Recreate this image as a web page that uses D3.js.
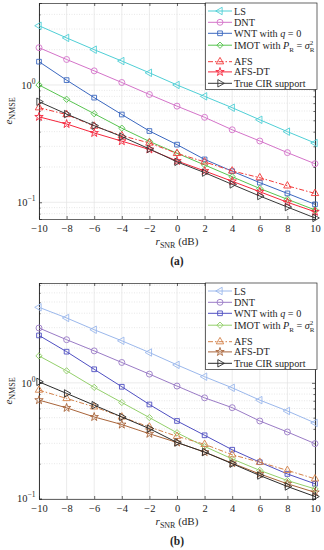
<!DOCTYPE html>
<html>
<head>
    <meta charset="utf-8" />
    <title>NMSE vs SNR</title>
    <script src="https://cdn.jsdelivr.net/npm/d3@7"></script>
    <style>
        body { margin: 0; background: #fff; }
        svg text { font-family: "Liberation Serif", "Times New Roman", serif; fill: #262626; }
    </style>
</head>
<body>
<script>

    //SNR values (dB), shared by both panels
    var snr = [-10, -8, -6, -4, -2, 0, 2, 4, 6, 8, 10];

    //Panel (a) curves
    var lsA    = [3.2, 2.52, 2.0, 1.6, 1.27, 1.0, 0.8, 0.64, 0.505, 0.40, 0.32];
    var dntA   = [2.08, 1.65, 1.32, 1.05, 0.83, 0.66, 0.53, 0.415, 0.333, 0.265, 0.213];
    var wntA   = [1.58, 1.1, 0.78, 0.56, 0.405, 0.31, 0.232, 0.184, 0.147, 0.119, 0.096];
    var imotA  = [1.0, 0.755, 0.569, 0.428, 0.33, 0.262, 0.208, 0.165, 0.131, 0.106, 0.086];
    var afsA   = [0.64, 0.56, 0.446, 0.37, 0.32, 0.261, 0.221, 0.185, 0.162, 0.138, 0.119];
    var afsdtA = [0.535, 0.465, 0.39, 0.332, 0.282, 0.225, 0.185, 0.151, 0.123, 0.1, 0.083];
    var trueA  = [0.72, 0.565, 0.45, 0.363, 0.285, 0.221, 0.179, 0.142, 0.113, 0.091, 0.0735];

    //Panel (b) curves
    var lsB    = [4.5, 3.64, 2.88, 2.31, 1.83, 1.43, 1.13, 0.906, 0.709, 0.571, 0.45];
    var dntB   = [2.98, 2.36, 1.89, 1.5, 1.19, 0.938, 0.742, 0.61, 0.468, 0.376, 0.298];
    var wntB   = [2.57, 1.86, 1.31, 0.925, 0.65, 0.468, 0.352, 0.264, 0.206, 0.163, 0.134];
    var imotB  = [1.71, 1.27, 0.914, 0.676, 0.501, 0.37, 0.282, 0.22, 0.175, 0.143, 0.121];
    var afsB   = [0.866, 0.733, 0.62, 0.507, 0.415, 0.345, 0.294, 0.239, 0.206, 0.175, 0.148];
    var afsdtB = [0.709, 0.608, 0.507, 0.436, 0.363, 0.305, 0.252, 0.202, 0.163, 0.134, 0.113];
    var trueB  = [1.02, 0.81, 0.641, 0.507, 0.402, 0.305, 0.252, 0.2, 0.158, 0.127, 0.104];

    //y limits and labelled decades
    var yDomainA = [0.072, 5];
    var yDomainB = [0.099, 7.3];
    var yMajor = [0.1, 1];

    //legend text, split in runs: [text, style]
    var legendParts = [
        [["LS"]],
        [["DNT"]],
        [["WNT with "], ["q", "i"], [" = 0"]],
        [["IMOT with "], ["P", "i"], ["R", "sub"], [" = "], ["σ", "i"], ["2", "sup"], ["R", "subback"]],
        [["AFS"]],
        [["AFS-DT"]],
        [["True CIR support"]]
    ];

    //styles
    var colorsA = ["#4fcfd6", "#d473c9", "#3b68c0", "#58c450", "#f23a3a", "#f5263c", "#383838"];
    var colorsB = ["#9bb8ec", "#9a7bc6", "#4f4fc2", "#94d06c", "#d4824a", "#a8643a", "#2a2a2a"];
    var markers = ["tleft", "circle", "square", "diamond", "tup", "star", "tright"];
    var dashes  = [null, null, null, null, "5,2,1.5,2", null, null];

    var w = 324, h = 550;
    var left = 39, right = 315, plotH = 216;

    var svg = d3.select("body").append("svg")
        .attr("width", w)
        .attr("height", h);

    function symbolPath(kind) {
        var s = d3.symbol();
        if (kind == "circle") return s.type(d3.symbolCircle).size(28)();
        if (kind == "square") return s.type(d3.symbolSquare).size(22)();
        if (kind == "diamond") return s.type(d3.symbolSquare).size(20)();
        if (kind == "star") return s.type(d3.symbolStar).size(22)();
        return s.type(d3.symbolTriangle).size(24)();
    }
    function symbolRot(kind) {
        if (kind == "tleft") return -90;
        if (kind == "tright") return 90;
        if (kind == "diamond") return 45;
        return 0;
    }

    function drawPanel(top, series, colors, yDomain, tag) {
        var g = svg.append("g");

        var x = d3.scaleLinear().domain([-10, 10]).range([left, right]);
        var y = d3.scaleLog().domain(yDomain).range([top + plotH, top]);

        //grid: minor (dotted) then major
        var minor = [];
        for (var k = -2; k <= 1; k++) {
            for (var m = 2; m <= 9; m++) {
                var v = m * Math.pow(10, k);
                if (v > yDomain[0] && v < yDomain[1]) minor.push(v);
            }
        }
        g.selectAll(".minor").data(minor).enter().append("line")
            .attr("x1", left).attr("x2", right)
            .attr("y1", function (d) { return y(d); })
            .attr("y2", function (d) { return y(d); })
            .attr("stroke", "#d8d8d8").attr("stroke-width", 0.6)
            .attr("stroke-dasharray", "1,1.5");
        g.selectAll(".hmajor").data(yMajor).enter().append("line")
            .attr("x1", left).attr("x2", right)
            .attr("y1", function (d) { return y(d); })
            .attr("y2", function (d) { return y(d); })
            .attr("stroke", "#e2e2e2").attr("stroke-width", 0.7);
        g.selectAll(".vmajor").data(snr).enter().append("line")
            .attr("x1", function (d) { return x(d); })
            .attr("x2", function (d) { return x(d); })
            .attr("y1", top).attr("y2", top + plotH)
            .attr("stroke", "#e2e2e2").attr("stroke-width", 0.7);

        //axes (ticks pointing in, box on)
        var fmt = function (d) { return d < 0 ? "\u2212" + (-d) : d; };
        var xb = g.append("g")
            .attr("transform", "translate(0," + (top + plotH) + ")")
            .call(d3.axisBottom(x).tickValues(snr).tickSize(-3).tickPadding(6).tickFormat(fmt));
        var xt = g.append("g")
            .attr("transform", "translate(0," + top + ")")
            .call(d3.axisTop(x).tickValues(snr).tickSize(-3).tickFormat(""));
        var yl = g.append("g")
            .attr("transform", "translate(" + left + ",0)")
            .call(d3.axisLeft(y).tickValues(yMajor).tickSize(-3).tickFormat(""));
        var yr = g.append("g")
            .attr("transform", "translate(" + right + ",0)")
            .call(d3.axisRight(y).tickValues(yMajor).tickSize(-3).tickFormat(""));
        var ylm = g.append("g")
            .attr("transform", "translate(" + left + ",0)")
            .call(d3.axisLeft(y).tickValues(minor).tickSize(-1.6).tickFormat(""));
        var yrm = g.append("g")
            .attr("transform", "translate(" + right + ",0)")
            .call(d3.axisRight(y).tickValues(minor).tickSize(-1.6).tickFormat(""));
        [xb, xt, yl, yr, ylm, yrm].forEach(function (a) {
            a.select(".domain").attr("stroke", "#262626").attr("stroke-width", 0.7);
            a.selectAll(".tick line").attr("stroke", "#262626").attr("stroke-width", 0.7);
        });
        xb.selectAll(".tick text")
            .style("font-family", "'Liberation Serif', serif")
            .style("font-size", "10.5px").attr("fill", "#262626");

        //y tick labels 10^k
        g.selectAll(".ylab").data(yMajor).enter().append("text")
            .attr("x", left - 3.5)
            .attr("y", function (d) { return y(d) + 4; })
            .attr("text-anchor", "end")
            .style("font-size", "10.5px")
            .each(function (d) {
                var t = d3.select(this);
                var e = Math.round(Math.log10(d));
                t.append("tspan").text("10");
                t.append("tspan").attr("dy", -5).style("font-size", "7.5px")
                    .text(e < 0 ? "\u2212" + (-e) : e);
            });

        //axis titles
        var xl = g.append("text")
            .attr("x", (left + right) / 2).attr("y", top + plotH + 26)
            .attr("text-anchor", "middle").style("font-size", "11px");
        xl.append("tspan").style("font-style", "italic").text("r");
        xl.append("tspan").attr("dy", 3).style("font-size", "8px").text("SNR");
        xl.append("tspan").attr("dy", -3).text(" (dB)");

        var ylab = g.append("text")
            .attr("transform", "translate(12," + (top + plotH / 2) + ") rotate(-90)")
            .attr("text-anchor", "middle").style("font-size", "11px");
        ylab.append("tspan").style("font-style", "italic").text("e");
        ylab.append("tspan").attr("dy", 3).style("font-size", "8px").text("NMSE");

        g.append("text")
            .attr("x", (left + right) / 2).attr("y", top + plotH + 46)
            .attr("text-anchor", "middle")
            .style("font-size", "11.5px").style("font-weight", "bold")
            .text(tag);

        //curves
        var line = d3.line()
            .x(function (d, i) { return x(snr[i]); })
            .y(function (d) { return y(d); });

        series.forEach(function (vals, s) {
            g.append("path")
                .attr("d", line(vals))
                .attr("fill", "none")
                .attr("stroke", colors[s])
                .attr("stroke-width", 1)
                .attr("stroke-dasharray", dashes[s]);
            g.selectAll(".mk" + s).data(vals).enter().append("path")
                .attr("d", symbolPath(markers[s]))
                .attr("transform", function (d, i) {
                    return "translate(" + x(snr[i]) + "," + y(d) + ") rotate(" + symbolRot(markers[s]) + ")";
                })
                .attr("fill", "none")
                .attr("stroke", colors[s])
                .attr("stroke-width", 0.9);
        });

        //legend
        var rowY = [8, 19.3, 30.3, 42.2, 58.7, 68.9, 80.3];
        var lg = g.append("g").attr("transform", "translate(0," + top + ")");
        lg.append("rect")
            .attr("x", 205.5).attr("y", 0)
            .attr("width", 317 - 205.5).attr("height", 86.5)
            .attr("fill", "#fff").attr("stroke", "#262626").attr("stroke-width", 0.7);
        legendParts.forEach(function (parts, s) {
            var yy = rowY[s];
            lg.append("line")
                .attr("x1", 208).attr("x2", 232)
                .attr("y1", yy).attr("y2", yy)
                .attr("stroke", colors[s]).attr("stroke-width", 1)
                .attr("stroke-dasharray", dashes[s]);
            lg.append("path")
                .attr("d", symbolPath(markers[s]))
                .attr("transform", "translate(220," + yy + ") rotate(" + symbolRot(markers[s]) + ")")
                .attr("fill", "none").attr("stroke", colors[s]).attr("stroke-width", 0.9);
            var t = lg.append("text")
                .attr("x", 234).attr("y", yy + 3.5)
                .style("font-size", "10.2px");
            var shift = 0;
            parts.forEach(function (p) {
                var sp = t.append("tspan").text(p[0]);
                var st = p[1];
                var target = 0;
                if (st == "i") sp.style("font-style", "italic");
                if (st == "sub") { target = 2.8; sp.style("font-size", "7px"); }
                if (st == "sup") { target = -4.2; sp.style("font-size", "7px"); }
                if (st == "subback") { target = 3; sp.attr("dx", -3.5).style("font-size", "7px"); }
                if (target != shift) sp.attr("dy", target - shift);
                shift = target;
            });
        });
    }

    drawPanel(3, [lsA, dntA, wntA, imotA, afsA, afsdtA, trueA], colorsA, yDomainA, "(a)");
    drawPanel(283, [lsB, dntB, wntB, imotB, afsB, afsdtB, trueB], colorsB, yDomainB, "(b)");

</script>
</body>
</html>
